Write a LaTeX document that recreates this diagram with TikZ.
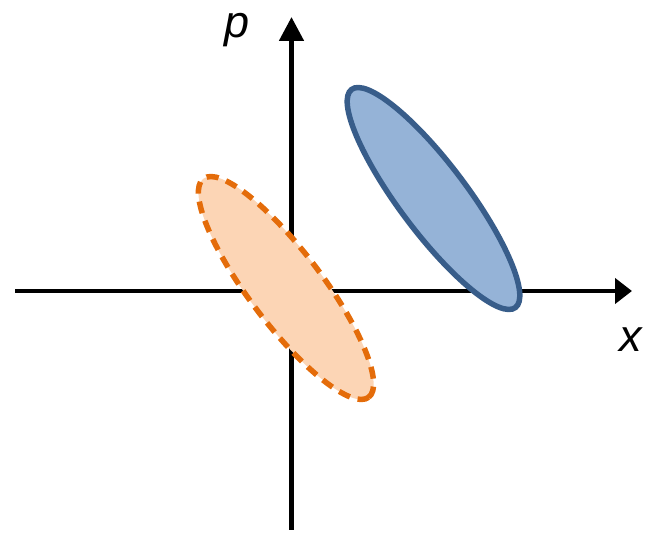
\documentclass[tikz,border=0pt]{standalone}
\usepackage{fontspec}
\setmainfont{Liberation Sans}
\usetikzlibrary{arrows.meta}
\definecolor{bluefill}{HTML}{95B3D7}
\definecolor{blueline}{HTML}{385D8A}
\definecolor{orangefill}{HTML}{FCD5B5}
\definecolor{orangeline}{HTML}{E46C0A}
\tikzset{
  axis/.style={line width=4.8pt, draw=black},
  axlabel/.style={font=\fontsize{45}{45}\selectfont\itshape, inner sep=0pt, anchor=base, text height=0.55em, text depth=0.22em},
  blueell/.style={fill=bluefill, draw=blueline, line width=5.5pt},
  orangeell/.style={fill=orangefill, draw=orangeline, line width=5.5pt, dash pattern=on 12pt off 8pt},
}
\begin{document}
\begin{tikzpicture}[x=1pt,y=-1pt]
\useasboundingbox (0,0) rectangle (646,534);
\coordinate (xs) at (15,291);
\coordinate (xe) at (632,291);
\coordinate (ys) at (291.5,530);
\coordinate (ye) at (291.5,17);
\draw[axis, -{Triangle[length=17pt,width=25pt]}] (xs) -- (xe);
\draw[axis, -{Triangle[length=24pt,width=24pt]}] (ys) -- (ye);
\node[axlabel] (plabel) at (237,38) {p};
\node[axlabel] (xlabel) at (631,352) {x};
\draw[orangeell] (286,288) ellipse [x radius=137pt, y radius=36.4pt, rotate=-52.9];
\draw[blueell] (433.5,198.5) ellipse [x radius=136.4pt, y radius=34pt, rotate=-53.1];
\end{tikzpicture}
\end{document}
